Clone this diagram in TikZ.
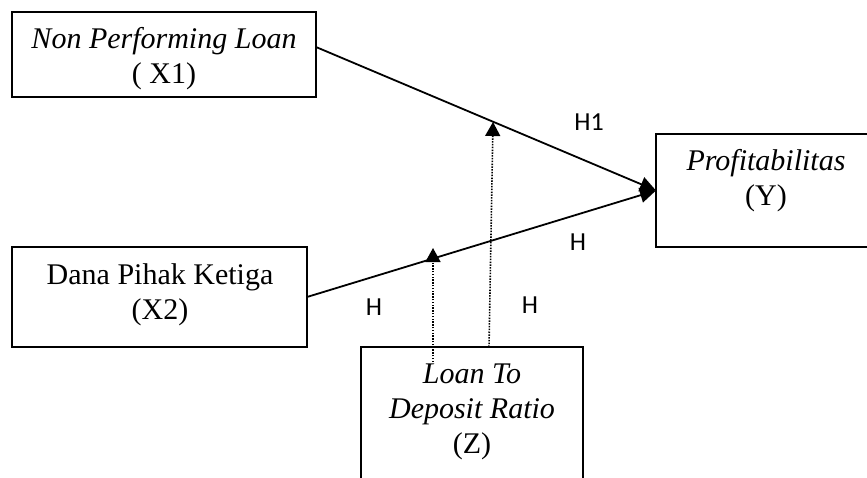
\documentclass[tikz,border=0pt]{standalone}
\usepackage{fontspec}
\setmainfont{Liberation Serif}
\newfontfamily\hypfont{Carlito}
\usetikzlibrary{arrows.meta,calc}
\begin{document}
\begin{tikzpicture}[x=1pt,y=-1pt,
  box/.style={draw,line width=1.9pt,rectangle,inner sep=0pt,outer sep=0pt},
  lbl/.style={font=\fontsize{30}{35}\selectfont,align=center,inner sep=0pt},
  hyp/.style={font=\hypfont\fontsize{26}{30}\selectfont,inner sep=0pt},
  link/.style={line width=1.8pt,-{Triangle[length=16pt,width=15pt]}},
  moder/.style={line width=1.6pt,dash pattern=on 1.5pt off 1.3pt,
    -{Triangle[length=14pt,width=15pt]}}
]
\useasboundingbox (0,0) rectangle (867,477);
\clip (0,0) rectangle (867,477);

% variable boxes
\node[box,minimum width=304pt,minimum height=85pt]  (X1) at (164,54.5) {};
\node[box,minimum width=295pt,minimum height=100pt] (X2) at (159.5,297) {};
\node[box,minimum width=220pt,minimum height=113pt] (Y)  at (766,190.5) {};
\node[box,minimum width=222pt,minimum height=166pt] (Z)  at (472,430) {};

% box texts
\node[lbl] (tX1) at (164,58.5)  {\textit{Non Performing Loan}\\( X1)};
\node[lbl] (tX2) at (160,294.5) {Dana Pihak Ketiga\\(X2)};
\node[lbl] (tY)  at (766,180.5) {\textit{Profitabilitas}\\(Y)};
\node[lbl] (tZ)  at (472,411.5) {\textit{Loan To}\\\textit{Deposit Ratio}\\(Z)};

% direct effects
\draw[link] ([yshift=7.5pt]X1.east) -- (Y.west);
\draw[link] (X2.east) -- (Y.west);

% moderating effects of Z
\coordinate (m1a) at (433,362);
\coordinate (m1b) at (433,248);
\coordinate (m2a) at (489,347);
\coordinate (m2b) at (493,122);
\draw[moder] (m1a) -- (m1b);
\draw[moder] (m2a) -- (m2b);

% hypothesis labels
\node[hyp] (h1) at (589,122)   {H1};
\node[hyp] (h2) at (578,242)   {H};
\node[hyp] (h3) at (374,307.5) {H};
\node[hyp] (h4) at (530,305)   {H};
\end{tikzpicture}
\end{document}
